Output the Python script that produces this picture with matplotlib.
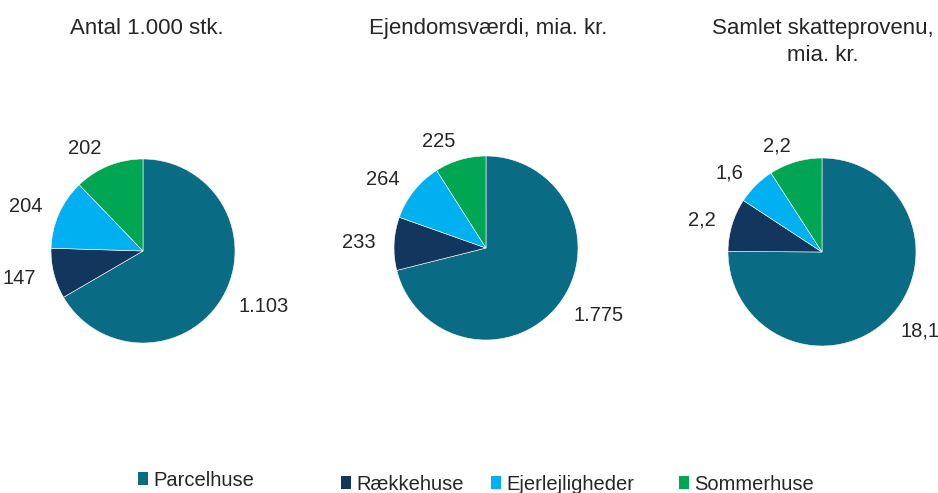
import matplotlib
matplotlib.use("Agg")
import matplotlib.pyplot as plt
from matplotlib.patches import Patch

plt.rcParams['font.family'] = ['Liberation Sans', 'DejaVu Sans']

# data
categories = ["Parcelhuse", "Rækkehuse", "Ejerlejligheder", "Sommerhuse"]
colors = ["#0a6b84", "#12365e", "#00b0f0", "#00a651"]
titles = ["Antal 1.000 stk.", "Ejendomsværdi, mia. kr.", "Samlet skatteprovenu,\nmia. kr."]
antal = [1103, 147, 204, 202]
vaerdi = [1775, 233, 264, 225]
provenu = [18.1, 2.2, 1.6, 2.2]
series = [antal, vaerdi, provenu]

W, H = 938, 493
TXT = "#262626"


def dk(v):
    # danish number format
    if isinstance(v, int):
        return f"{v:,}".replace(",", ".")
    return f"{v:.1f}".replace(".", ",")


fig = plt.figure(figsize=(W / 100, H / 100), dpi=100)

# pie centres and radii in pixels, label distance
centres = [(143, 251, 92, 1.2), (486, 248, 92, 1.2), (822, 252, 94, 1.18)]
title_x = [147, 488, 823]

for vals, (cx, cy, r, ld), title, tx in zip(series, centres, titles, title_x):
    ax = fig.add_axes([(cx - r) / W, (H - cy - r) / H, 2 * r / W, 2 * r / H])
    ax.pie(vals, colors=colors, startangle=90, counterclock=False,
           labels=[dk(v) for v in vals], labeldistance=ld,
           wedgeprops=dict(edgecolor="white", linewidth=0.4),
           textprops=dict(fontsize=14.5, color=TXT))
    ax.set_xlim(-1, 1)
    ax.set_ylim(-1, 1)
    ax.set_aspect("equal")
    fig.text(tx / W, 1 - 18 / H, title, ha="center", va="top",
             fontsize=16, color=TXT, linespacing=1.35)

# legend entries, placed one by one like the original
leg_pos = [(138, 480), (341, 484), (491, 484), (679, 484)]
for cat, col, (lx, ly) in zip(categories, colors, leg_pos):
    fig.legend(handles=[Patch(facecolor=col, edgecolor="none")], labels=[cat],
               loc="center left", bbox_to_anchor=(lx / W, 1 - ly / H),
               frameon=False, borderpad=0, borderaxespad=0,
               handlelength=0.5, handleheight=0.6, handletextpad=0.25,
               fontsize=14.5, labelcolor=TXT)

fig.savefig("out.png", dpi=100)
